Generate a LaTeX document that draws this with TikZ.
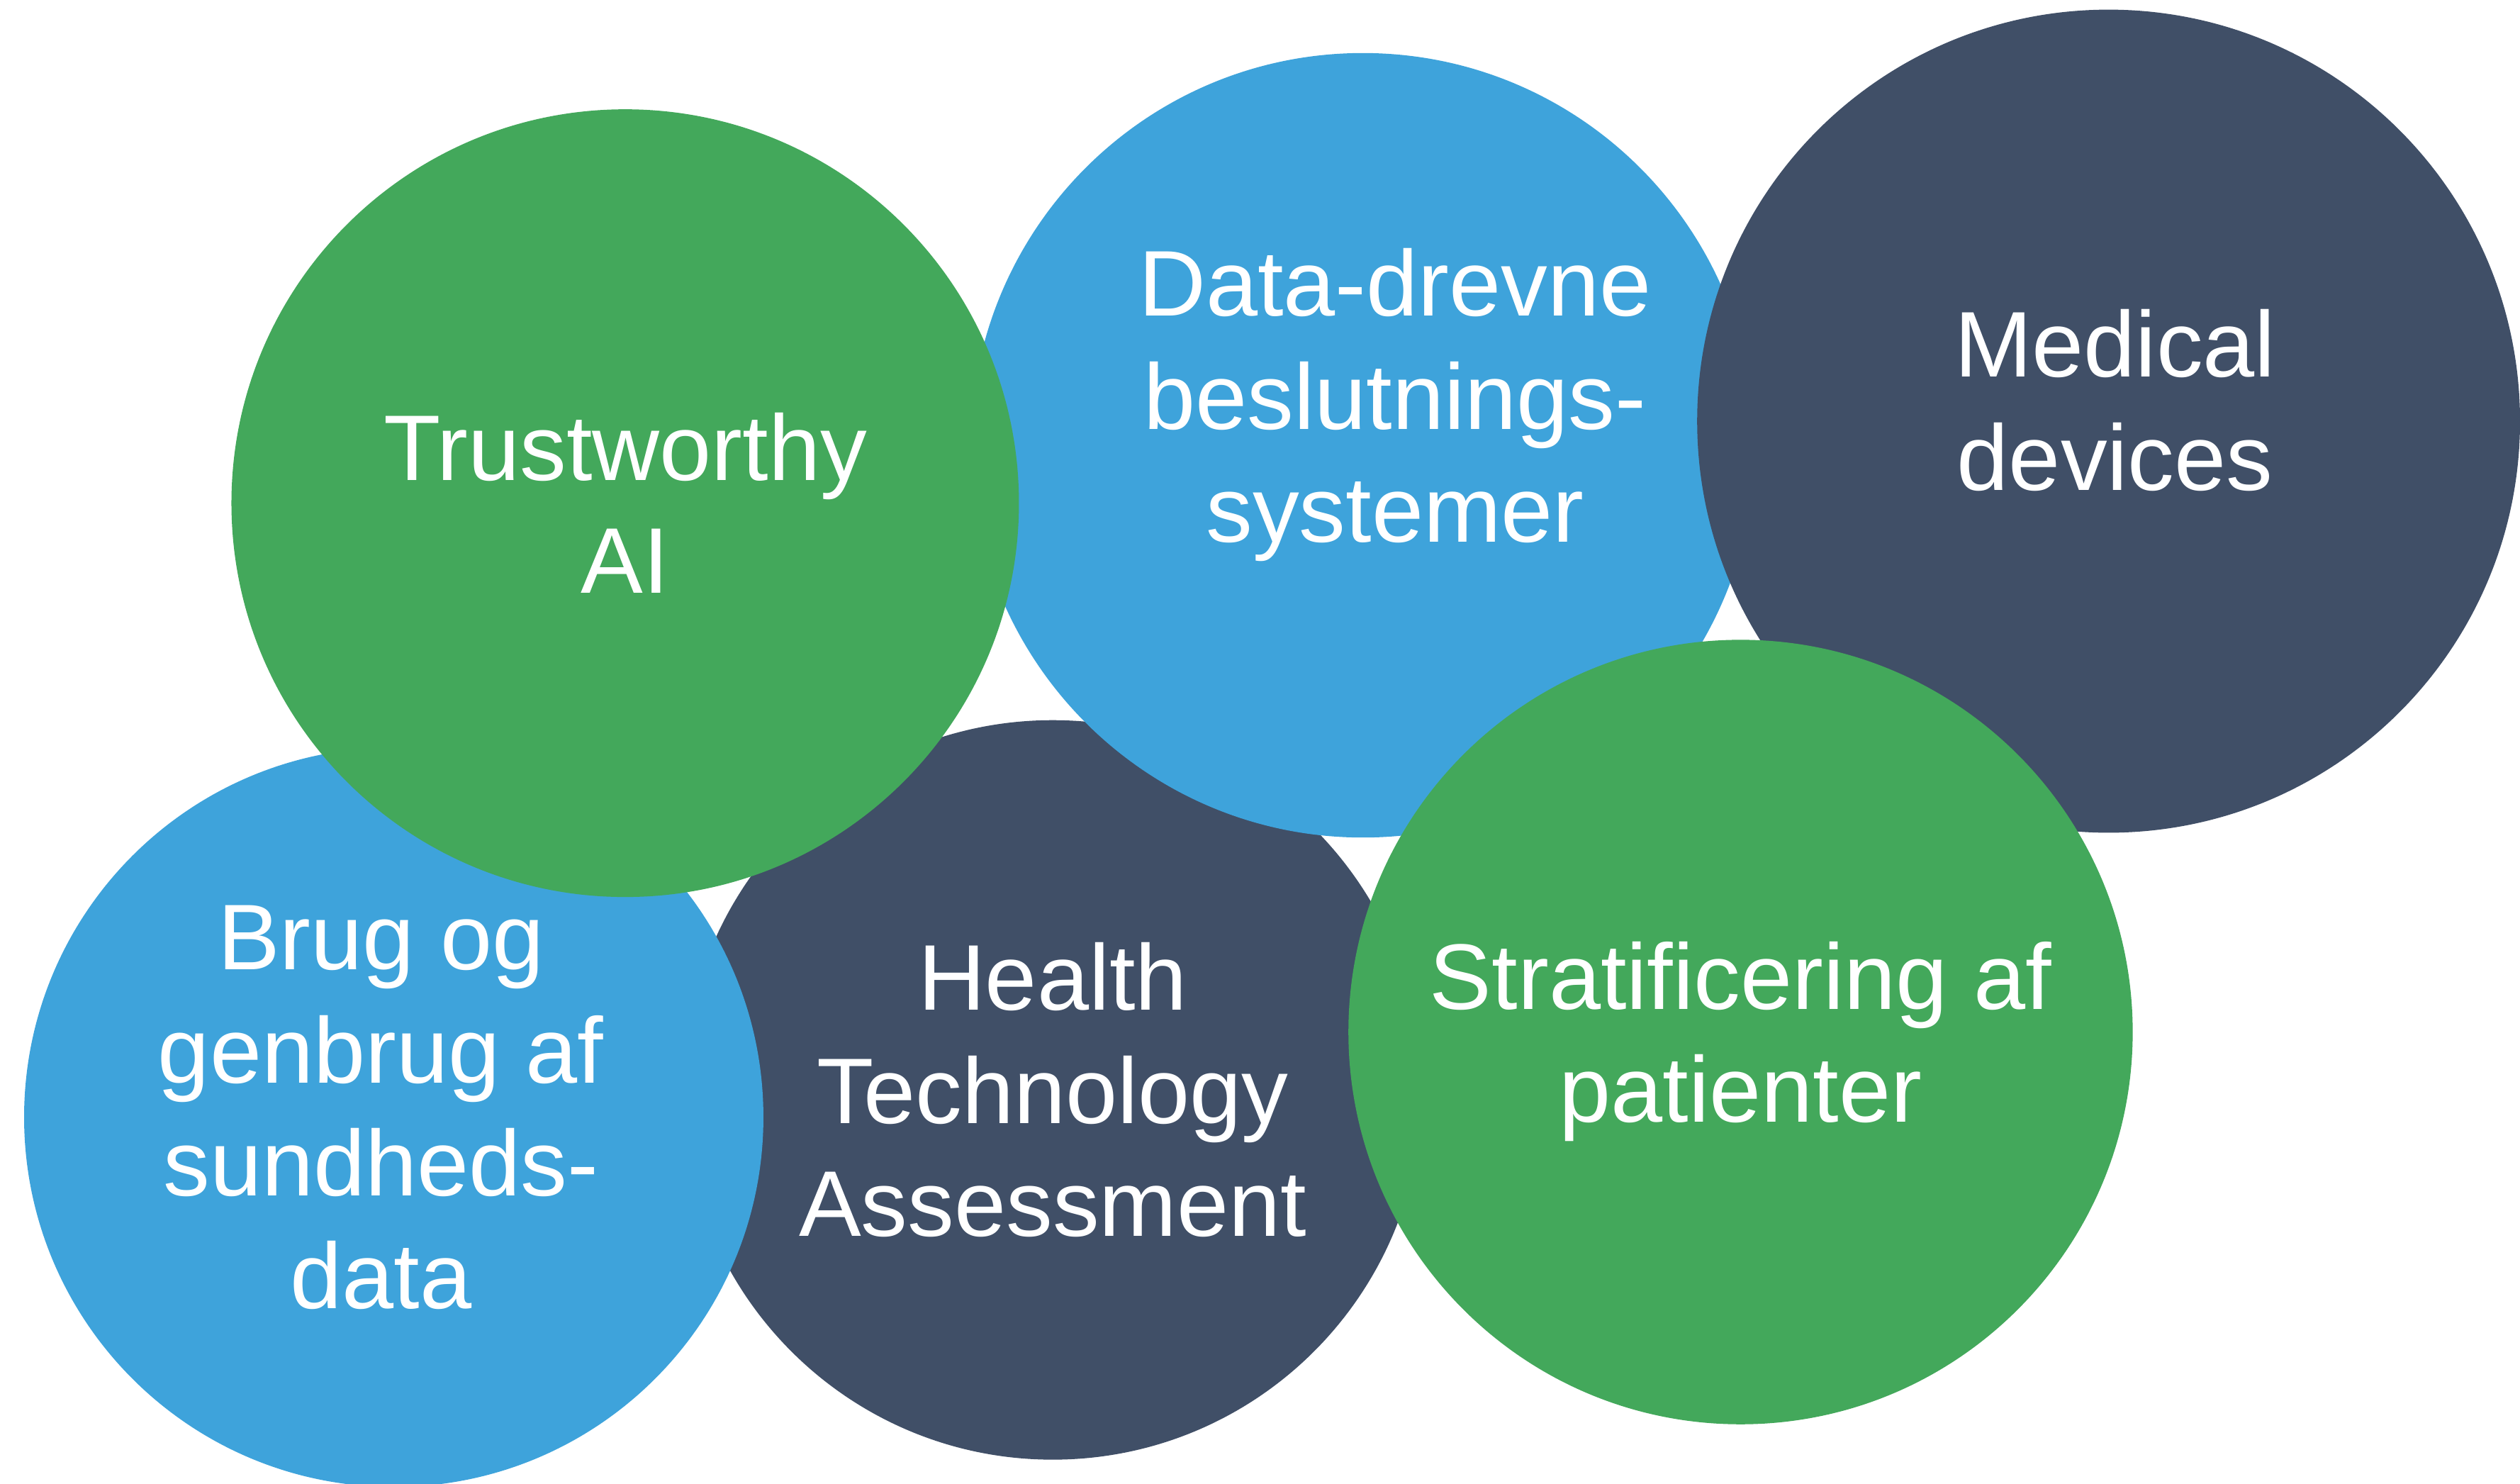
\documentclass[tikz,border=0pt]{standalone}
\usepackage{fontspec}
\setmainfont{Liberation Sans}
\usepackage{xcolor}
\usetikzlibrary{positioning, calc}

\definecolor{bubgreen}{HTML}{43A85B}
\definecolor{bubblue}{HTML}{3EA3DB}
\definecolor{bubdark}{HTML}{404F67}

\tikzset{
  bubble/.style={circle, fill=#1, draw=none, inner sep=0pt},
  caption/.style={text=white, align=center, font=\fontsize{16.5}{20}\selectfont}
}

\begin{document}
\begin{tikzpicture}
      \useasboundingbox (0,0) rectangle (15.68,9.23);
      % circles, back to front
      \node[bubble=bubdark, minimum size=4.60cm] (hta) at (6.55,2.45) {};
      \node[bubble=bubblue, minimum size=4.60cm] (brug) at (2.45,2.28) {};
      \node[bubble=bubblue, minimum size=4.88cm] (ddbs) at (8.48,6.46) {};
      \node[bubble=bubgreen, minimum size=4.90cm] (tai) at (3.89,6.10) {};
      \node[bubble=bubdark, minimum size=5.12cm] (med) at (13.12,6.61) {};
      \node[bubble=bubgreen, minimum size=4.88cm] (strat) at (10.83,2.81) {};
      % texts
      \node[caption] (taitxt) at (tai) {Trustworthy\\AI};
      \node[caption] (ddbstxt) at ($(ddbs)+(0.2,0.25)$) {Data-drevne\\beslutnings-\\systemer};
      \node[caption] (medtxt) at ($(med)+(0.04,0.13)$) {Medical\\devices};
      \node[caption] (brugtxt) at ($(brug)+(-0.08,0.06)$) {Brug og\\genbrug af\\sundheds-\\data};
      \node[caption] (htatxt) at (hta) {Health\\Technology\\Assessment};
      \node[caption] (strattxt) at ($(strat)+(0,-0.06)$) {Stratificering af\\patienter};
\end{tikzpicture}
\end{document}
